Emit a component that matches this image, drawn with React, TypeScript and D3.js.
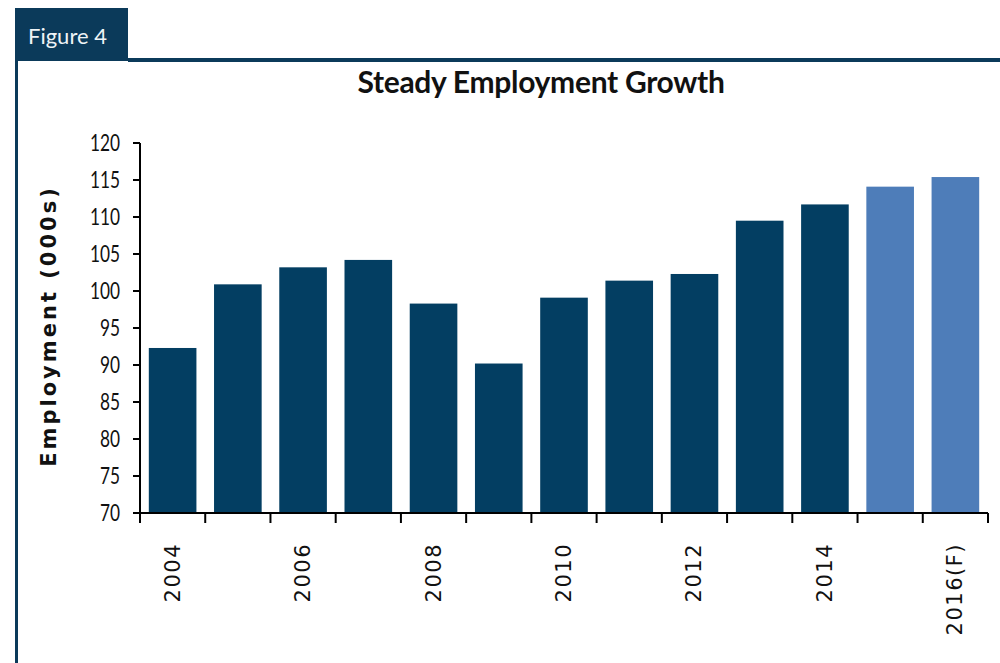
import React from "react";
import * as d3 from "d3";

const years = ["2004","2005","2006","2007","2008","2009","2010","2011","2012","2013","2014","2015","2016(F)"];
const employment = [92.3, 100.9, 103.2, 104.2, 98.3, 90.2, 99.1, 101.4, 102.3, 109.5, 111.7, 114.1, 115.4];
const forecast = [false,false,false,false,false,false,false,false,false,false,false,true,true];
const yTicks = [70, 75, 80, 85, 90, 95, 100, 105, 110, 115, 120];

const W = 1000, H = 663;
const FRAME = "#0b3a5a";
const DARK = "#033e62";
const LIGHT = "#4e7db9";

export default function App() {
  const x = d3.scaleBand<string>().domain(years).range([140, 988]).paddingInner(0.27).paddingOuter(0.135);
  const y = d3.scaleLinear().domain([70, 120]).range([513, 143]);
  const bounds = d3.scaleBand<string>().domain(years).range([140, 988]);
  const step = bounds.step();
  const tickXs = d3.range(years.length + 1).map(i => 140 + i * step);

  return (
    <svg width={W} height={H} style={{ position: "absolute", left: 0, top: 0, background: "#fff" }}>
      {/* frame */}
      <rect x={15} y={8} width={113} height={53} fill={FRAME} />
      <text x={28} y={44} fill="#eef3f6" fontFamily="Lato, 'Open Sans', sans-serif" fontSize={22}>Figure 4</text>
      <rect x={128} y={58} width={872} height={4} fill={FRAME} />
      <rect x={15} y={58} width={3} height={605} fill={FRAME} />

      {/* title */}
      <text x={541} y={93} textAnchor="middle" fontFamily="Lato, sans-serif" fontWeight={700} fontSize={30} letterSpacing={-0.3} fill="#111">Steady Employment Growth</text>

      {/* bars */}
      {years.map((yr, i) => (
        <rect key={yr} x={x(yr)} y={y(employment[i])} width={x.bandwidth()} height={y(70) - y(employment[i])}
          fill={forecast[i] ? LIGHT : DARK} />
      ))}

      {/* y axis */}
      <line x1={140} x2={140} y1={y(120)} y2={y(70)} stroke="#000" strokeWidth={2} />
      {yTicks.map(t => (
        <g key={t}>
          <line x1={133} x2={140} y1={y(t)} y2={y(t)} stroke="#000" strokeWidth={2} />
          <text transform={`translate(120,${y(t)}) scale(0.72,1)`} dy="0.35em" textAnchor="end" fontFamily="Lato, sans-serif" fontSize={24} fill="#111">{t}</text>
        </g>
      ))}

      {/* x axis */}
      <line x1={140} x2={988} y1={y(70)} y2={y(70)} stroke="#000" strokeWidth={2} />
      {tickXs.map((tx, i) => (
        <line key={i} x1={tx} x2={tx} y1={y(70)} y2={y(70) + 10} stroke="#000" strokeWidth={2} />
      ))}
      {years.map((yr, i) => i % 2 === 0 ? (
        <text key={yr} transform={`translate(${(x(yr) as number) + x.bandwidth() / 2 + 7},543) rotate(-90)`}
          textAnchor="end" fontFamily="'DejaVu Sans', Verdana, sans-serif" fontSize={21} letterSpacing={1.5} fill="#111">{yr}</text>
      ) : null)}

      {/* y label */}
      <text transform={`translate(56,326) rotate(-90)`} textAnchor="middle" fontFamily="'DejaVu Sans', Verdana, sans-serif"
        fontWeight={700} fontSize={21} letterSpacing={3} fill="#111">Employment (000s)</text>
    </svg>
  );
}
